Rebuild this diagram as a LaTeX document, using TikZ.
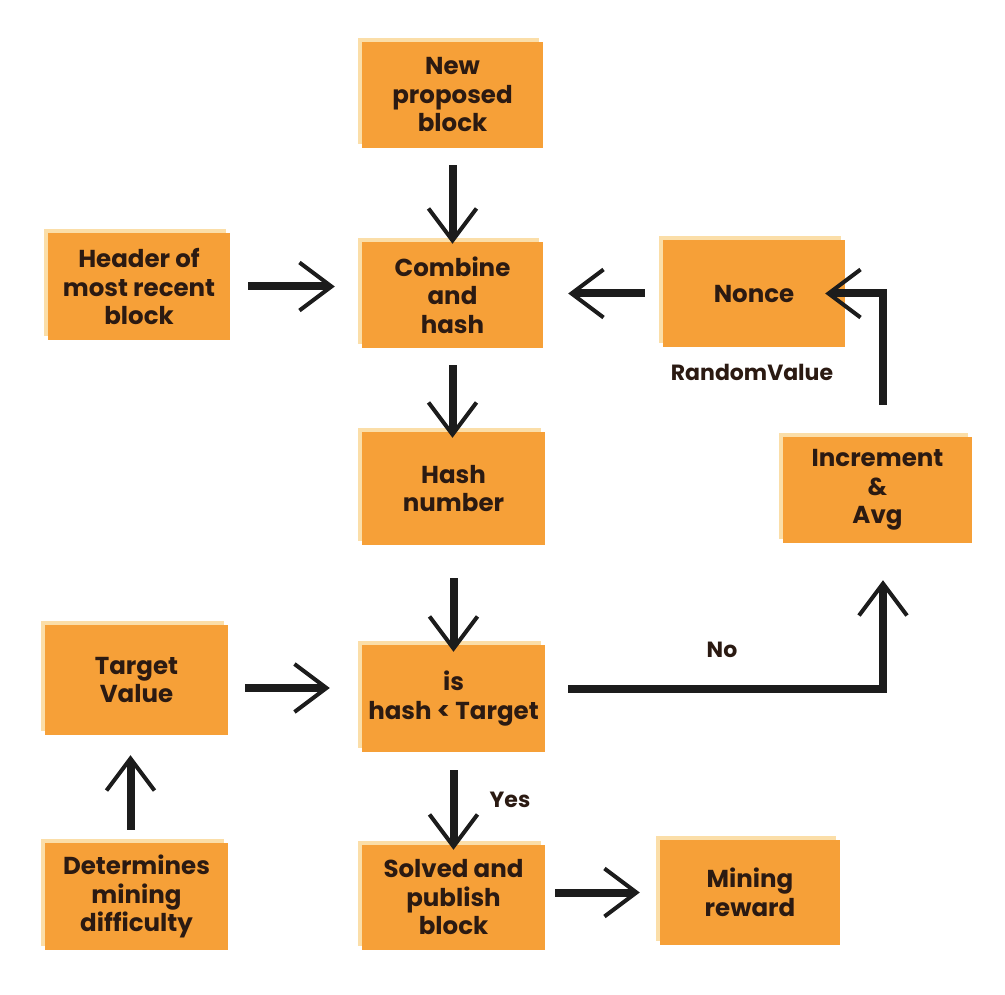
\documentclass[tikz,border=0pt]{standalone}
\usepackage{fontspec}
\setmainfont{Poppins}
\usetikzlibrary{arrows.meta}
\definecolor{boxor}{RGB}{246,160,56}
\definecolor{boxedge}{RGB}{251,222,168}
\definecolor{ink}{RGB}{43,26,18}
\definecolor{arr}{RGB}{28,28,28}
\begin{document}
\begin{tikzpicture}[x=1pt,y=1pt,
 box/.style={fill=boxor, inner sep=0pt, align=center,
   font=\fontsize{24.5}{28.5}\selectfont\bfseries, text=ink,
   preaction={fill=boxedge, transform canvas={shift={(-4pt,4pt)}}}},
 flow/.style={draw=arr, line width=8pt,
   -{Straight Barb[length=32pt,width=48pt,line width=4pt]}},
 lbl/.style={font=\fontsize{22}{26}\selectfont\bfseries, text=ink}]
\useasboundingbox[fill=white] (0,0) rectangle (1005,-995);

\node[box, minimum width=181pt, minimum height=106pt] (new) at (452.5,-95) {New\\proposed\\block};
\node[box, minimum width=181pt, minimum height=106pt] (comb) at (452.5,-295) {Combine\\and\\hash};
\node[box, minimum width=182pt, minimum height=107pt] (hdr) at (139,-286.5) {Header of\\most recent\\block};
\node[box, minimum width=182pt, minimum height=107pt] (nonce) at (754,-293.5) {Nonce};
\node[box, minimum width=183pt, minimum height=113pt] (hash) at (453.5,-488.5) {Hash\\number};
\node[box, minimum width=189pt, minimum height=106pt] (inc) at (877.5,-490) {Increment\\\&\\Avg};
\node[box, minimum width=183pt, minimum height=110pt] (tv) at (136.5,-680) {Target\\Value};
\node[box, minimum width=183pt, minimum height=107pt] (is) at (453.5,-698.5) {is\\hash < Target};
\node[box, minimum width=183pt, minimum height=107pt] (det) at (136.5,-896.5) {Determines\\mining\\difficulty};
\node[box, minimum width=183pt, minimum height=105pt] (sol) at (453.5,-897.5) {Solved and\\publish\\block};
\node[box, minimum width=180pt, minimum height=105pt] (mr) at (750,-892.5) {Mining\\reward};

\node[lbl] (rv) at (752,-372) {RandomValue};
\node[lbl] (yes) at (510,-800) {Yes};
\node[lbl] (no) at (722,-650) {No};

\draw[flow, shorten <=17pt, shorten >=-2pt] (new.south) -- (comb.north);
\draw[flow, shorten <=18pt, shorten >=27pt] (hdr.east) -- (hdr.east -| comb.west);
\draw[flow, shorten <=18pt, shorten >=25pt] (nonce.west) -- (nonce.west -| comb.east);
\draw[flow, shorten <=17pt, shorten >=-6pt] (comb.south) -- (comb.south |- hash.north);
\draw[flow, shorten <=33pt, shorten >=-7pt] (hash.south) -- (hash.south |- is.north);
\draw[flow, shorten <=17pt, shorten >=32pt] ([yshift=-8pt]tv.east) -- ([yshift=-8pt]tv.east -| is.west);
\draw[flow, shorten <=13pt, shorten >=20pt] ([xshift=-6pt]det.north) -- ([xshift=-6pt]det.north |- tv.south);
\draw[flow, shorten <=18pt, shorten >=-5pt] (is.south) -- (is.south |- sol.north);
\draw[flow, shorten <=10pt, shorten >=20pt] (sol.east |- mr.west) -- (mr.west);
\draw[flow, shorten <=23pt, shorten >=37pt] ([yshift=10pt]is.east) -| ([xshift=5.5pt]inc.south);
\draw[flow, shorten <=32pt, shorten >=-20pt] ([xshift=5.5pt]inc.north) |- (nonce.east);
\end{tikzpicture}
\end{document}
